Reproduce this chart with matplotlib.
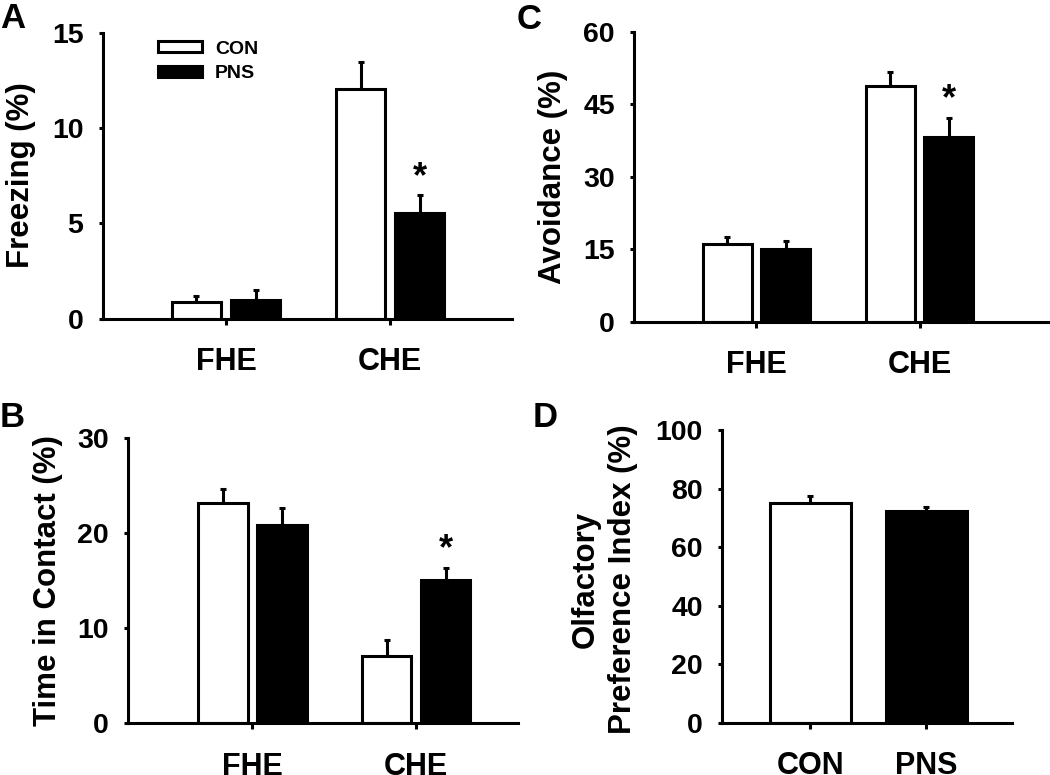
import matplotlib
matplotlib.use('Agg')
import matplotlib.pyplot as plt
from matplotlib.patches import Patch

plt.rcParams['font.family'] = ['Liberation Sans', 'DejaVu Sans']
plt.rcParams['font.weight'] = 'bold'

# ---- data ----
contexts = ['FHE', 'CHE']
groups = ['CON', 'PNS']

freezing_con = [0.87, 12.06]
freezing_con_err = [0.32, 1.40]
freezing_pns = [0.96, 5.56]
freezing_pns_err = [0.52, 0.91]
freezing_sig = [False, True]

avoid_con = [16.0, 48.8]
avoid_con_err = [1.5, 2.8]
avoid_pns = [14.97, 38.3]
avoid_pns_err = [1.7, 3.9]
avoid_sig = [False, True]

contact_con = [23.2, 7.07]
contact_con_err = [1.4, 1.7]
contact_pns = [20.9, 15.1]
contact_pns_err = [1.7, 1.25]
contact_sig = [False, True]

olf_means = [75.2, 72.3]
olf_err = [2.2, 1.3]

LW = 2.2
TICK_FS = 20.5
CAT_FS = 22
LABEL_FS = 22.5

fig = plt.figure(figsize=(10.5, 7.75), dpi=100)


def style(ax, ymax, yticks, xlim, xticks, xlabels):
    for s in ['top', 'right']:
        ax.spines[s].set_visible(False)
    for s in ['left', 'bottom']:
        ax.spines[s].set_linewidth(LW)
    ax.set_ylim(0, ymax)
    ax.set_yticks(yticks)
    ax.set_xlim(*xlim)
    ax.set_xticks(xticks)
    ax.set_xticklabels(xlabels, fontsize=CAT_FS, fontweight='bold')
    ax.tick_params(axis='y', direction='out', length=3, width=LW, labelsize=TICK_FS, pad=11)
    ax.tick_params(axis='x', direction='out', length=4, width=LW, pad=16.5)
    for lab in ax.get_yticklabels():
        lab.set_fontweight('bold')


def grouped(ax, con, con_err, pns, pns_err, sig, star_off):
    x = [1, 2]
    w = 0.30
    off = 0.18
    xc = [i - off for i in x]
    xp = [i + off for i in x]
    ax.bar(xc, con, width=w, color='white', edgecolor='black', linewidth=LW, zorder=2)
    ax.bar(xp, pns, width=w, color='black', edgecolor='black', linewidth=LW, zorder=2)
    ax.errorbar(xc, con, yerr=[[0] * len(con), con_err], fmt='none', ecolor='black',
                elinewidth=LW, capsize=2.5, capthick=LW, zorder=1)
    ax.errorbar(xp, pns, yerr=[[0] * len(pns), pns_err], fmt='none', ecolor='black',
                elinewidth=LW, capsize=2.5, capthick=LW, zorder=1)
    for xi, v, e, s in zip(xp, pns, pns_err, sig):
        if s:
            ax.annotate('*', xy=(xi, v + e), xytext=(0, star_off), textcoords='offset points',
                        ha='center', va='baseline', fontsize=26, fontweight='bold')


# Panel A
axA = fig.add_axes([0.098, 0.589, 0.390, 0.369])
grouped(axA, freezing_con, freezing_con_err, freezing_pns, freezing_pns_err, freezing_sig, 6)
style(axA, 15, [0, 5, 10, 15], (0.25, 2.745), [1, 2], contexts)
axA.set_ylabel('Freezing (%)', fontsize=LABEL_FS, fontweight='bold', va='center')
axA.yaxis.set_label_coords(-0.200, 0.5)
handles = [Patch(facecolor='white', edgecolor='black', linewidth=LW),
           Patch(facecolor='black', edgecolor='black', linewidth=LW)]
axA.legend(handles, groups, loc='upper left', bbox_to_anchor=(0.134, 0.972), frameon=False,
           fontsize=14, handlelength=2.3, handleheight=0.5, handletextpad=0.65,
           labelspacing=0.4, borderpad=0, borderaxespad=0)

# Panel C
axC = fig.add_axes([0.604, 0.585, 0.396, 0.374])
grouped(axC, avoid_con, avoid_con_err, avoid_pns, avoid_pns_err, avoid_sig, 6)
style(axC, 60, [0, 15, 30, 45, 60], (0.25, 2.80), [1, 2], contexts)
axC.set_ylabel('Avoidance (%)', fontsize=LABEL_FS, fontweight='bold', va='center')
axC.yaxis.set_label_coords(-0.195, 0.5)

# Panel B
axB = fig.add_axes([0.122, 0.0667, 0.371, 0.368])
grouped(axB, contact_con, contact_con_err, contact_pns, contact_pns_err, contact_sig, 6)
style(axB, 30, [0, 10, 20, 30], (0.24, 2.62), [1, 2], contexts)
axB.set_ylabel('Time in Contact (%)', fontsize=LABEL_FS, fontweight='bold', va='center')
axB.yaxis.set_label_coords(-0.205, 0.5)

# Panel D
axD = fig.add_axes([0.688, 0.0675, 0.276, 0.3775])
xd = [1, 2]
axD.bar(xd, olf_means, width=0.70, color=['white', 'black'], edgecolor='black', linewidth=LW, zorder=2)
axD.errorbar(xd, olf_means, yerr=[[0, 0], olf_err], fmt='none', ecolor='black',
             elinewidth=LW, capsize=2.5, capthick=LW, zorder=1)
style(axD, 100, [0, 20, 40, 60, 80, 100], (0.24, 2.74), xd, groups)
axD.set_ylabel('Olfactory\nPreference Index (%)', fontsize=LABEL_FS, fontweight='bold',
               va='center', linespacing=1.3)
axD.yaxis.set_label_coords(-0.407, 0.49)

# Panel letters
for lx, ly, t in [(0.0, 0.998, 'A'), (0.492, 0.996, 'C'), (0.0, 0.483, 'B'), (0.507, 0.483, 'D')]:
    fig.text(lx, ly, t, fontsize=25, fontweight='bold', ha='left', va='top')

fig.savefig('out.png', dpi=100)
